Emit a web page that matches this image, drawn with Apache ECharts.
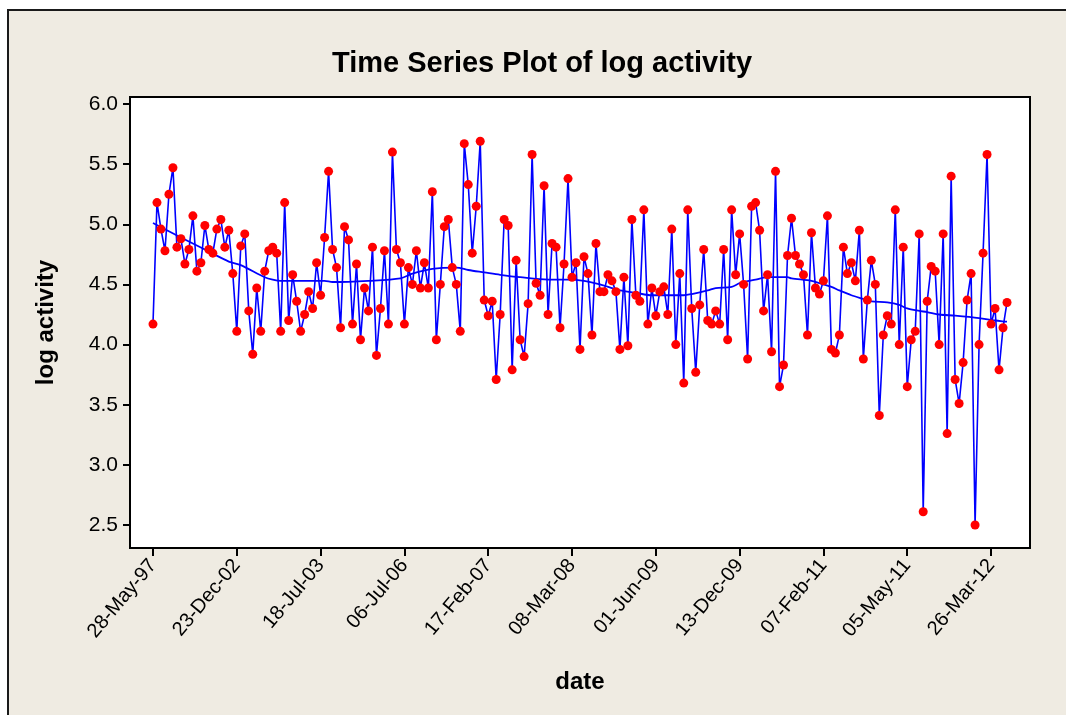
<!DOCTYPE html>
<html>
<head>
<meta charset="utf-8">
<script src="https://cdn.jsdelivr.net/npm/echarts@6/dist/echarts.min.js"></script>
<style>
html,body{margin:0;padding:0;background:#fff;}
#chart{width:1066px;height:715px;}
</style>
</head>
<body>
<div id="chart"></div>
<script>
// Observation values (log activity), in time order
const logActivity = [
4.17,5.18,4.96,4.78,5.25,5.47,4.81,4.88,4.67,4.79,
5.07,4.61,4.68,4.99,4.79,4.76,4.96,5.04,4.81,4.95,
4.59,4.11,4.82,4.92,4.28,3.92,4.47,4.11,4.61,4.78,
4.81,4.76,4.11,5.18,4.20,4.58,4.36,4.11,4.25,4.44,
4.30,4.68,4.41,4.89,5.44,4.79,4.64,4.14,4.98,4.87,
4.17,4.67,4.04,4.47,4.28,4.81,3.91,4.30,4.78,4.17,
5.60,4.79,4.68,4.17,4.64,4.50,4.78,4.47,4.68,4.47,
5.27,4.04,4.50,4.98,5.04,4.64,4.50,4.11,5.67,5.33,
4.76,5.15,5.69,4.37,4.24,4.36,3.71,4.25,5.04,4.99,
3.79,4.70,4.04,3.90,4.34,5.58,4.51,4.41,5.32,4.25,
4.84,4.81,4.14,4.67,5.38,4.56,4.68,3.96,4.73,4.59,
4.08,4.84,4.44,4.44,4.58,4.53,4.44,3.96,4.56,3.99,
5.04,4.41,4.36,5.12,4.17,4.47,4.24,4.44,4.48,4.25,
4.96,4.00,4.59,3.68,5.12,4.30,3.77,4.33,4.79,4.20,
4.17,4.28,4.17,4.79,4.04,5.12,4.58,4.92,4.50,3.88,
5.15,5.18,4.95,4.28,4.58,3.94,5.44,3.65,3.83,4.74,
5.05,4.74,4.67,4.58,4.08,4.93,4.47,4.42,4.53,5.07,
3.96,3.93,4.08,4.81,4.59,4.68,4.53,4.95,3.88,4.37,
4.70,4.50,3.41,4.08,4.24,4.17,5.12,4.00,4.81,3.65,
4.04,4.11,4.92,2.61,4.36,4.65,4.61,4.00,4.92,3.26,
5.40,3.71,3.51,3.85,4.37,4.59,2.50,4.00,4.76,5.58,
4.17,4.30,3.79,4.14,4.35
];

const trendIndex = [1,8,14,20,23,29,31,33,44,46,55,63,66,71,77,80,84,88,93,100,105,109,113,116,118,122,126,134,136,140,142,146,148,152,155,160,161,166,168,171,173,176,179,181,185,188,190,193,195,198,202,208,212,215];
const trendValue = [5.01,4.89,4.79,4.69,4.66,4.56,4.54,4.53,4.53,4.52,4.53,4.55,4.59,4.63,4.64,4.62,4.60,4.58,4.56,4.54,4.54,4.53,4.50,4.47,4.45,4.43,4.41,4.41,4.42,4.45,4.47,4.48,4.51,4.54,4.56,4.56,4.55,4.53,4.51,4.48,4.45,4.41,4.38,4.36,4.35,4.33,4.30,4.28,4.27,4.25,4.24,4.22,4.20,4.19];

// X tick labels (dates) and where they sit (observation index)
const dateLabels = ["28-May-97","23-Dec-02","18-Jul-03","06-Jul-06","17-Feb-07","08-Mar-08","01-Jun-09","13-Dec-09","07-Feb-11","05-May-11","26-Mar-12"];
const dateTickIndex = [1,22,43,64,85,106,127,148,169,190,211];

// Y tick labels
const yTicks = [2.5,3.0,3.5,4.0,4.5,5.0,5.5,6.0];

const seriesData = logActivity.map((v, i) => [i + 1, v]);
const trendData = trendIndex.map((x, i) => [x, trendValue[i]]);

const FONT = 'Liberation Sans, Arial, sans-serif';

const chart = echarts.init(document.getElementById('chart'), null, {renderer: 'canvas'});
chart.setOption({
  animation: false,
  backgroundColor: '#ffffff',
  graphic: [{
    type: 'rect',
    z: -10,
    silent: true,
    shape: {x: 8, y: 10, width: 1080, height: 730},
    style: {fill: '#EFEBE2', stroke: '#1a1a1a', lineWidth: 2}
  }],
  title: {
    text: 'Time Series Plot of log activity',
    left: 537,
    top: 44,
    textAlign: 'center',
    textStyle: {fontFamily: FONT, fontSize: 29, fontWeight: 'bold', color: '#000'}
  },
  grid: {
    left: 130, right: 36, top: 97, bottom: 167,
    show: true,
    backgroundColor: '#ffffff',
    borderColor: '#000',
    borderWidth: 2
  },
  xAxis: {
    type: 'value',
    min: -4.76,
    max: 220.76,
    name: 'date',
    nameLocation: 'middle',
    nameGap: 122,
    nameTextStyle: {fontFamily: FONT, fontSize: 24, fontWeight: 'bold', color: '#000'},
    axisLine: {show: true, onZero: false, lineStyle: {color: '#000', width: 2}},
    axisTick: {show: true, length: 8, lineStyle: {color: '#000', width: 2}, customValues: dateTickIndex},
    axisLabel: {
      customValues: dateTickIndex,
      rotate: 50,
      margin: 14,
      fontFamily: FONT, fontSize: 20, color: '#000',
      formatter: function (v) {
        const k = dateTickIndex.indexOf(Math.round(v));
        return k >= 0 ? dateLabels[k] : '';
      }
    },
    splitLine: {show: false}
  },
  yAxis: {
    type: 'value',
    min: 2.309,
    max: 6.058,
    name: 'log activity',
    nameLocation: 'middle',
    nameRotate: 90,
    nameGap: 72,
    nameTextStyle: {fontFamily: FONT, fontSize: 24, fontWeight: 'bold', color: '#000'},
    axisLine: {show: true, onZero: false, lineStyle: {color: '#000', width: 2}},
    axisTick: {show: true, length: 7, lineStyle: {color: '#000', width: 2}, customValues: yTicks},
    axisLabel: {
      customValues: yTicks,
      margin: 12,
      fontFamily: FONT, fontSize: 21, color: '#000',
      formatter: function (v) { return Number(v).toFixed(1); }
    },
    splitLine: {show: false}
  },
  series: [
    {
      name: 'trend',
      type: 'line',
      data: trendData,
      smooth: 0.3,
      symbol: 'none',
      z: 2,
      lineStyle: {color: '#0000FF', width: 1.8}
    },
    {
      name: 'log activity',
      type: 'line',
      data: seriesData,
      symbol: 'circle',
      symbolSize: 9,
      z: 3,
      lineStyle: {color: '#0000FF', width: 1.6},
      itemStyle: {color: '#FF0000', borderWidth: 0}
    }
  ]
});
</script>
</body>
</html>
